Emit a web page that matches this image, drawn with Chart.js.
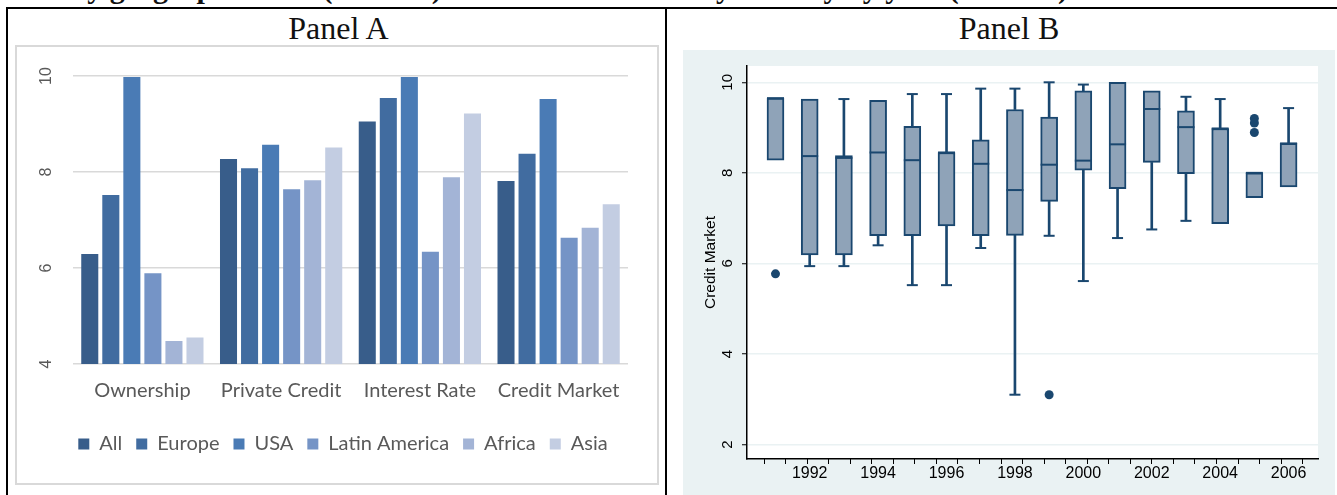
<!DOCTYPE html>
<html>
<head>
<meta charset="utf-8">
<script src="https://cdn.jsdelivr.net/npm/chart.js@4.4.1/dist/chart.umd.min.js"></script>
<style>
  body { margin: 0; width: 1337px; height: 495px; overflow: hidden; background: #fff; position: relative; font-family: "Liberation Serif", serif; }
  .rule { position: absolute; background: #000; }
  .ptitle { position: absolute; top: 10px; font-size: 32px; line-height: 36px; text-align: center; color: #111; }
  #head { position: absolute; top: -27px; right: 269px; white-space: nowrap; font-weight: bold; font-size: 30px; line-height: 30px; color: #111; }
  #frameA { position: absolute; left: 15px; top: 45px; width: 640px; height: 436px; border: 2px solid #d9d9d9; }
  #cA { position: absolute; left: 0; top: 0; }
  #cB { position: absolute; left: 683px; top: 50px; background: #eaf2f3; }
</style>
</head>
<body>
<div id="head">Figure 4: Credit market regulation by geographic area (Panel A) and Credit Market by country by year (Panel B)</div>
<div class="rule" style="left:6px;top:7px;width:1331px;height:2px"></div>
<div class="rule" style="left:6px;top:7px;width:2px;height:488px"></div>
<div class="rule" style="left:665px;top:7px;width:2px;height:488px"></div>
<div class="ptitle" style="left:10px;width:657px">Panel A</div>
<div class="ptitle" style="left:674px;width:670px">Panel B</div>
<div id="frameA"><canvas id="cA" width="640" height="436"></canvas></div>
<canvas id="cB" width="652" height="445"></canvas>
<script>
// Panel A: mean scores by region
const measures = ["Ownership", "Private Credit", "Interest Rate", "Credit Market"];
const regions = ["All", "Europe", "USA", "Latin America", "Africa", "Asia"];
const allVals = [6.29, 8.27, 9.05, 7.81];
const europeVals = [7.52, 8.08, 9.54, 8.38];
const usaVals = [9.98, 8.57, 9.98, 9.52];
const latinVals = [5.89, 7.64, 6.34, 6.63];
const africaVals = [4.48, 7.83, 7.89, 6.84];
const asiaVals = [4.55, 8.51, 9.22, 7.33];
const yTicksA = [4, 6, 8, 10];

// Panel B: Credit Market box plot by year
const years = [1991, 1992, 1993, 1994, 1995, 1996, 1997, 1998, 1999, 2000, 2001, 2002, 2003, 2004, 2005, 2006];
const lowWhisker = [8.28, 5.94, 5.94, 6.40, 5.52, 5.52, 6.34, 3.10, 6.61, 5.61, 6.56, 6.75, 6.94, 6.88, 7.45, 7.69];
const q1 = [8.28, 6.19, 6.19, 6.61, 6.61, 6.83, 6.61, 6.62, 7.37, 8.06, 7.65, 8.23, 7.98, 6.88, 7.45, 7.69];
const medians = [9.65, 8.37, 8.33, 8.45, 8.28, 8.45, 8.20, 7.62, 8.18, 8.27, 8.63, 9.41, 9.01, 8.98, 8.00, 8.65];
const q3 = [9.65, 9.63, 8.38, 9.60, 9.03, 8.45, 8.73, 9.40, 9.23, 9.81, 10.00, 9.81, 9.37, 8.98, 8.00, 8.65];
const highWhisker = [9.65, 9.63, 9.63, 9.60, 9.74, 9.74, 9.86, 9.86, 10.00, 9.95, 10.00, 9.81, 9.68, 9.63, 8.00, 9.43];
const outlierYears = [1991, 1999, 2005, 2005, 2005];
const outlierVals = [5.77, 3.10, 9.20, 9.10, 8.89];
const yTicksB = [2, 4, 6, 8, 10];
const xLabelYears = [1992, 1994, 1996, 1998, 2000, 2002, 2004, 2006];

const colorsA = ["#385d8a", "#416ca0", "#4a7bb5", "#7594c6", "#a3b4d6", "#c3cde2"];
const seriesA = [allVals, europeVals, usaVals, latinVals, africaVals, asiaVals];

new Chart(document.getElementById("cA"), {
  type: "bar",
  data: {
    labels: measures,
    datasets: regions.map((r, i) => ({
      label: r,
      data: seriesA[i],
      backgroundColor: colorsA[i],
      borderWidth: 0,
      categoryPercentage: 0.91,
      barPercentage: 0.81,
    })),
  },
  options: {
    responsive: false,
    animation: false,
    layout: { padding: { left: 41, right: 29, top: 29, bottom: 19 } },
    plugins: {
      tooltip: { enabled: false },
      legend: {
        position: "bottom",
        labels: {
          boxWidth: 11,
          boxHeight: 11,
          padding: 14,
          color: "#595959",
          font: { family: "Lato", size: 20 },
        },
      },
    },
    scales: {
      x: {
        grid: { display: false, drawTicks: false },
        border: { display: false },
        ticks: { color: "#595959", font: { family: "Lato", size: 20 }, padding: 15 },
        afterFit(s) { s.height = 56; },
      },
      y: {
        min: 4,
        max: 10,
        afterBuildTicks(s) { s.ticks = yTicksA.map(v => ({ value: v })); },
        afterFit(s) { s.width = 15; },
        grid: { color: "#d9d9d9", lineWidth: 1.5, drawTicks: false },
        border: { display: false },
        ticks: {
          minRotation: 90,
          maxRotation: 90,
          mirror: true,
          crossAlign: "center",
          padding: -35,
          color: "#595959",
          font: { family: "Liberation Sans", size: 16 },
        },
      },
    },
  },
});

// Panel B
const navy = "#1a476f";
const boxFill = "#8fa3b8";
const lowSegs = [], highSegs = [], caps = [], boxes = [], meds = [];
years.forEach((yr, i) => {
  boxes.push({ x: yr, y: [q1[i], q3[i]] });
  meds.push({ x: yr, y: medians[i] });
  if (lowWhisker[i] < q1[i]) {
    lowSegs.push({ x: yr, y: [lowWhisker[i], q1[i]] });
    caps.push({ x: yr, y: lowWhisker[i] });
  }
  if (highWhisker[i] > q3[i]) {
    highSegs.push({ x: yr, y: [q3[i], highWhisker[i]] });
    caps.push({ x: yr, y: highWhisker[i] });
  }
});
const outliers = outlierYears.map((yr, i) => ({ x: yr, y: outlierVals[i] }));

const plotBg = {
  id: "plotBg",
  beforeDraw(chart) {
    const a = chart.chartArea, c = chart.ctx;
    c.save();
    c.fillStyle = "#ffffff";
    c.fillRect(a.left, a.top, a.right - a.left, a.bottom - a.top);
    c.restore();
  },
};

new Chart(document.getElementById("cB"), {
  type: "bar",
  data: {
    datasets: [
      { type: "scatter", data: outliers, xAxisID: "x", pointRadius: 4.5, pointBackgroundColor: navy, pointBorderWidth: 0 },
      { type: "scatter", data: meds, xAxisID: "x", pointStyle: "line", pointRadius: 8.5, pointBorderColor: navy, pointBorderWidth: 2 },
      { type: "scatter", data: caps, xAxisID: "x", pointStyle: "line", pointRadius: 5.5, pointBorderColor: navy, pointBorderWidth: 2 },
      { data: boxes, xAxisID: "x", grouped: false, barThickness: 17, backgroundColor: boxFill, borderColor: navy, borderWidth: 2, borderSkipped: false },
      { data: lowSegs, xAxisID: "x", grouped: false, barThickness: 2, backgroundColor: navy, borderWidth: 0 },
      { data: highSegs, xAxisID: "x", grouped: false, barThickness: 2, backgroundColor: navy, borderWidth: 0 },
    ],
  },
  options: {
    responsive: false,
    animation: false,
    layout: { padding: { left: 0, right: 17, top: 16, bottom: 0 } },
    plugins: { legend: { display: false }, tooltip: { enabled: false } },
    scales: {
      xt: {
        type: "linear",
        position: "bottom",
        weight: 0,
        offset: false,
        min: -0.79,
        max: 25.71,
        afterBuildTicks(s) {
          const t = [];
          for (let k = 0; k <= 25; k++) t.push({ value: k });
          s.ticks = t;
        },
        afterFit(s) { s.height = 0; },
        grid: { drawOnChartArea: false, offset: false, tickLength: 5, tickColor: "#000", tickWidth: 1 },
        border: { display: false },
        ticks: { display: false },
      },
      x: {
        type: "linear",
        position: "bottom",
        weight: 1,
        offset: false,
        min: 1990.167,
        max: 2006.86,
        afterBuildTicks(s) { s.ticks = xLabelYears.map(v => ({ value: v })); },
        afterFit(s) { s.height = 36; },
        grid: { display: false, drawTicks: false, offset: false },
        border: { display: true, color: "#000", width: 1.5 },
        ticks: { callback: v => String(v), color: "#000", padding: 5, font: { family: "Liberation Sans", size: 16 } },
      },
      y: {
        min: 1.68,
        max: 10.36,
        afterBuildTicks(s) { s.ticks = yTicksB.map(v => ({ value: v })); },
        afterFit(s) { s.width = 64; },
        grid: { color: "#eaf2f3", lineWidth: 1.5, tickLength: 5, tickColor: "#000", tickWidth: 1 },
        border: { display: true, color: "#000", width: 1.5 },
        title: { display: true, text: "Credit Market", color: "#000", font: { family: "Liberation Sans", size: 15.5 }, padding: { top: 18, bottom: 0 } },
        ticks: { minRotation: 90, maxRotation: 90, crossAlign: "center", padding: 6, color: "#000", font: { family: "Liberation Sans", size: 15 } },
      },
    },
  },
  plugins: [plotBg],
});
</script>
</body>
</html>
